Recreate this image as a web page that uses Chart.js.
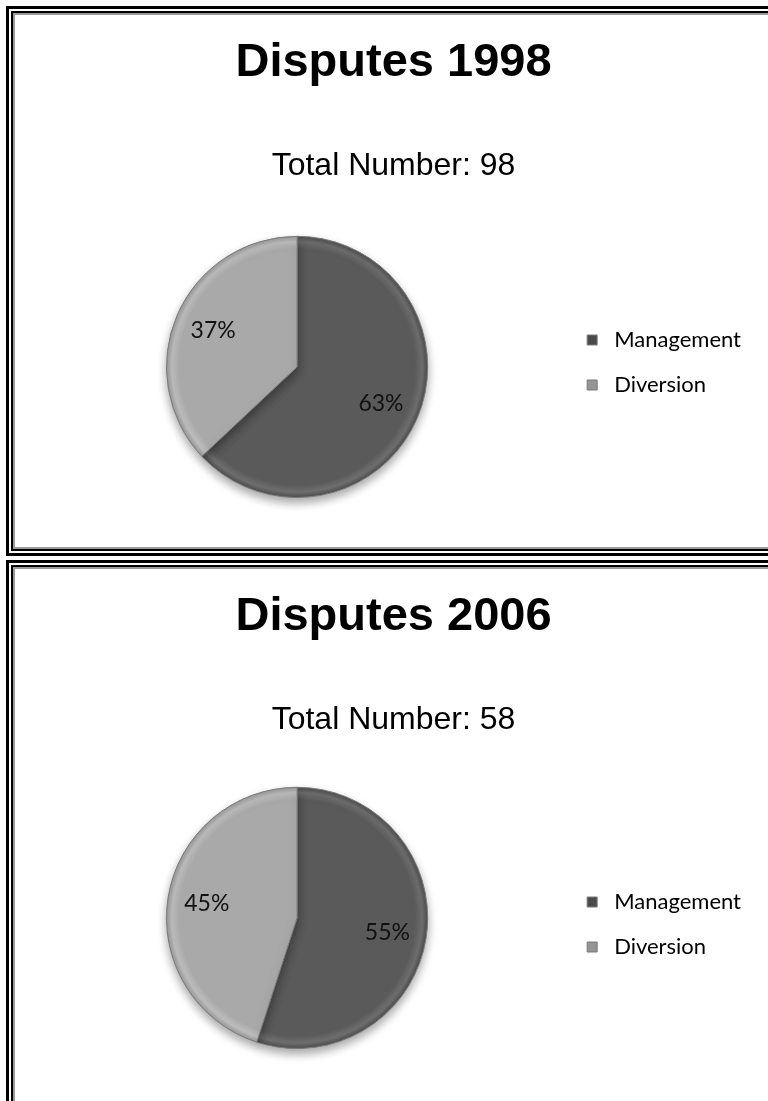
<!DOCTYPE html>
<html>
<head>
<meta charset="utf-8">
<title>Disputes</title>
<script src="https://cdn.jsdelivr.net/npm/chart.js@4/dist/chart.umd.min.js"></script>
<style>
  html, body { margin: 0; padding: 0; background: #fff; overflow: hidden; }
  body { width: 768px; height: 1101px; position: relative; }
  .frame { position: absolute; left: 6px; width: 800px; border: 3px solid #000; padding: 2px; box-sizing: border-box; background: #fff; }
  .frame .inner { border: 2px solid #000; }
  .frame .gray { border: 2px solid #9a9a9a; height: 532px; position: relative; }
  .frame canvas { position: absolute; left: 0; top: 0; display: block; }
</style>
</head>
<body>
<div class="frame" style="top:6px"><div class="inner"><div class="gray"><canvas id="chart1998" width="758" height="532"></canvas></div></div></div>
<div class="frame" style="top:560px"><div class="inner"><div class="gray"><canvas id="chart2006" width="758" height="532"></canvas></div></div></div>
<script>
'use strict';

// data
let categories = ['Management', 'Diversion'];
let years = ['1998', '2006'];
let totals = [98, 58];
let shares1998 = [63, 37];
let shares2006 = [55, 45];

let sliceColors = ['#5a5a5a', '#a9a9a9'];
let rimColors = ['#6e6e6e', '#bdbdbd'];
let edgeColors = ['#4a4a4a', '#959595'];

// soft bevel look: ring near the edge of each slice
function sliceFill(ctx) {
  let chart = ctx.chart;
  let area = chart.chartArea;
  let i = ctx.dataIndex;
  if (!area) return sliceColors[i];
  let cx = (area.left + area.right) / 2;
  let cy = (area.top + area.bottom) / 2;
  let r = Math.min(area.right - area.left, area.bottom - area.top) / 2;
  let g = chart.ctx.createRadialGradient(cx, cy, 0, cx, cy, r);
  g.addColorStop(0, sliceColors[i]);
  g.addColorStop(0.9, sliceColors[i]);
  g.addColorStop(0.955, rimColors[i]);
  g.addColorStop(1, edgeColors[i]);
  return g;
}

// percent labels inside the slices
let pctLabels = {
  id: 'pctLabels',
  afterDatasetsDraw(chart) {
    let ctx = chart.ctx;
    let meta = chart.getDatasetMeta(0);
    let data = chart.data.datasets[0].data;
    ctx.save();
    ctx.font = '23px Lato, "Open Sans", sans-serif';
    ctx.fillStyle = '#111';
    ctx.textAlign = 'center';
    ctx.textBaseline = 'middle';
    meta.data.forEach(function (arc, i) {
      let mid = (arc.startAngle + arc.endAngle) / 2;
      let rr = arc.outerRadius * 0.7;
      ctx.fillText(data[i] + '%', arc.x + Math.cos(mid) * rr, arc.y + Math.sin(mid) * rr);
    });
    ctx.restore();
  }
};

// drop shadow under the pie
let pieShadow = {
  id: 'pieShadow',
  beforeDatasetsDraw(chart) {
    let ctx = chart.ctx;
    ctx.save();
    ctx.shadowColor = 'rgba(0,0,0,0.35)';
    ctx.shadowBlur = 10;
    ctx.shadowOffsetY = 5;
  },
  afterDatasetsDraw(chart) {
    chart.ctx.restore();
  }
};

// lift: moves the pie up a little, legendTop: space above the legend items
function renderChart(canvasId, year, total, shares, lift, legendTop) {
  let config = {
    type: 'pie',
    data: {
      labels: categories,
      datasets: [{
        data: shares,
        backgroundColor: sliceFill,
        borderColor: '#7a7a7a',
        borderWidth: 1
      }]
    },
    options: {
      responsive: false,
      animation: false,
      layout: { padding: { left: 21, right: 22, top: 0, bottom: 49 + lift } },
      plugins: {
        title: {
          display: true,
          text: 'Disputes ' + year,
          color: '#000',
          font: { family: '"Liberation Sans", Arial, sans-serif', size: 47, weight: 'bold' },
          padding: { top: 20, bottom: 0 }
        },
        subtitle: {
          display: true,
          text: 'Total Number: ' + total,
          color: '#000',
          font: { family: '"Liberation Sans", Arial, sans-serif', size: 32, weight: 'normal' },
          padding: { top: 56, bottom: 50 - lift }
        },
        legend: {
          position: 'right',
          align: 'start',
          // empty title only used to push the items down beside the pie
          title: {
            display: true,
            text: ' ',
            font: { size: 10 },
            padding: { top: legendTop, bottom: 0 }
          },
          labels: {
            color: '#000',
            font: { family: 'Lato, "Open Sans", sans-serif', size: 22 },
            usePointStyle: true,
            pointStyle: 'rect',
            boxWidth: 22,
            boxHeight: 10,
            padding: 23
          }
        },
        tooltip: { enabled: false }
      }
    },
    plugins: [pieShadow, pctLabels]
  };
  new Chart(document.getElementById(canvasId), config);
}

renderChart('chart1998', years[0], totals[0], shares1998, 0, 279);
renderChart('chart2006', years[1], totals[1], shares2006, 3, 287);
</script>
</body>
</html>
